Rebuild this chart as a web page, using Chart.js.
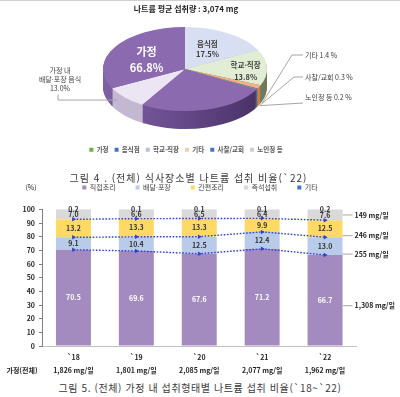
<!DOCTYPE html>
<html lang="ko"><head><meta charset="utf-8">
<script src="https://cdn.jsdelivr.net/npm/chart.js@4.4.1/dist/chart.umd.min.js"></script>
<style>
html,body{margin:0;padding:0;background:#fff;}
body{width:400px;height:397px;position:relative;overflow:hidden;font-family:"Noto Sans CJK KR","Noto Sans",sans-serif;}
#topline{position:absolute;left:0;top:0;width:400px;height:1px;background:#cfcfcf;}
#pieCanvas{position:absolute;left:0;top:0;}
#barCanvas{position:absolute;left:0;top:164px;}
.cap{position:absolute;left:0;width:400px;text-align:center;font-size:10px;line-height:12px;color:#3a3a3a;white-space:nowrap;box-sizing:border-box;}
#cap4{top:172px;letter-spacing:1px;padding-right:23px;}
#cap5{top:382px;letter-spacing:0.6px;}
</style></head><body>
<canvas id="pieCanvas" width="400" height="163"></canvas>
<canvas id="barCanvas" width="400" height="216"></canvas>
<div id="topline"></div>
<div class="cap" id="cap4">그림 4 . (전체) 식사장소별 나트륨 섭취 비율(`22)</div>
<div class="cap" id="cap5">그림 5. (전체) 가정 내 섭취형태별 나트륨 섭취 비율(`18~`22)</div>
<script>
const FONT='"Noto Sans CJK KR","Noto Sans",sans-serif';
Chart.defaults.font.family=FONT;
Chart.defaults.animation=false;

// ---------- data: figure 4 (pie) ----------
const avgSodium='3,074 mg';
const placeLabels=['가정','음식점','학교·직장','기타','사찰/교회','노인정 등'];
const placeShares=[66.8,17.5,13.8,1.4,0.3,0.2];
const homeDeliveryName=['가정 내','배달·포장 음식'];
const homeDeliveryShare=13.0;

// ---------- data: figure 5 (stacked bars) ----------
const years=['`18','`19','`20','`21','`22'];
const homeTotals=['1,826 mg/일','1,801 mg/일','2,085 mg/일','2,077 mg/일','1,962 mg/일'];
const typeNames=['직접조리','배달·포장','간편조리','즉석섭취','기타'];
const directCook=[70.5,69.6,67.6,71.2,66.7];
const deliveryTakeout=[9.1,10.4,12.5,12.4,13.0];
const convenienceCook=[13.2,13.3,13.3,9.9,12.5];
const instantEat=[7.0,6.6,6.5,6.4,7.6];
const otherType=[0.2,0.1,0.1,0.1,0.2];
const mg2022=['1,308 mg/일','255 mg/일','246 mg/일','149 mg/일'];

// ---------- pie ----------
const PIE={cx:185,cy:69,rx:82,ry:42,depth:18};
const WEDGE_AT=0.44;
const homeShare=placeShares[0];
const deliveryPart=homeShare*homeDeliveryShare/100;
const homeRest=homeShare-deliveryPart;
const pieValues=[placeShares[1],placeShares[2],placeShares[3],placeShares[4],placeShares[5],homeRest*WEDGE_AT,deliveryPart,homeRest*(1-WEDGE_AT)];
const pieNames=[placeLabels[1],placeLabels[2],placeLabels[3],placeLabels[4],placeLabels[5],placeLabels[0],homeDeliveryName.join(' '),placeLabels[0]];
const pieTop=['#D9DFF2','#E2EDD6','#F4B183','#5A7EC6','#A6A6A6','#8C6AAF','#ECE5F3','#8C6AAF'];
const pieSide=['#A9B0C9','#6E7C58','#C08050','#34538F','#767676',null,'#C4B8D2',null];
const pieLegendColors=['#70AD47','#4472C4','#B4C0E0','#F8CBAD','#4472C4','#D0D0D0'];

function ellPt(a,f){return {x:PIE.cx+PIE.rx*f*Math.cos(a),y:PIE.cy+PIE.ry*f*Math.sin(a)};}

const pie3d={
  id:'pie3d',
  beforeDatasetsDraw(chart){
    const meta=chart.getDatasetMeta(0),ctx=chart.ctx,e0=meta.data[0];
    const r=e0.outerRadius,sx=PIE.rx/r,sy=PIE.ry/r;
    const apply=(dy)=>{ctx.translate(PIE.cx,PIE.cy+dy);ctx.scale(sx,sy);ctx.translate(-e0.x,-e0.y);};
    const purple=ctx.createLinearGradient(e0.x-r,0,e0.x+r,0);
    purple.addColorStop(0,'#7E61A4');purple.addColorStop(0.5,'#654888');purple.addColorStop(1,'#452F63');
    for(let d=PIE.depth;d>=1;d--){
      ctx.save();apply(d);
      meta.data.forEach((el,i)=>{
        ctx.beginPath();ctx.moveTo(el.x,el.y);
        ctx.arc(el.x,el.y,el.outerRadius,el.startAngle,el.endAngle);
        ctx.closePath();ctx.fillStyle=pieSide[i]||purple;ctx.fill();
      });
      ctx.restore();
    }
    ctx.save();apply(0);
  },
  afterDatasetsDraw(chart){
    const ctx=chart.ctx;ctx.restore();
    const meta=chart.getDatasetMeta(0);
    const mid=i=>(meta.data[i].startAngle+meta.data[i].endAngle)/2;
    ctx.save();
    ctx.textAlign='center';ctx.textBaseline='middle';
    const two=(lines,x,y,gap,font,color)=>{ctx.font=font;ctx.fillStyle=color;ctx.fillText(lines[0],x,y-gap);ctx.fillText(lines[1],x,y+gap);};
    let p=ellPt(mid(0),0.57);
    two([placeLabels[1],placeShares[1].toFixed(1)+'%'],p.x-2,p.y+1,5,'bold 7.5px '+FONT,'#404040');
    p=ellPt(mid(1),0.74);
    two([placeLabels[2],placeShares[2].toFixed(1)+'%'],p.x,p.y+3,6,'bold 7.5px '+FONT,'#404040');
    p=ellPt(mid(7),0.55);
    two([placeLabels[0],placeShares[0].toFixed(1)+'%'],p.x,p.y+3,8,'bold 11px '+FONT,'#ffffff');
    // left outside label (sub-wedge)
    const w=ellPt(mid(6),1.0);
    ctx.strokeStyle='#A6A6A6';ctx.lineWidth=1;
    ctx.beginPath();ctx.moveTo(w.x-8,w.y+2.5);ctx.lineTo(PIE.cx-127,w.y+2.5);ctx.lineTo(PIE.cx-127,w.y-3);ctx.stroke();
    ctx.font='7px '+FONT;ctx.fillStyle='#404040';
    ctx.fillText(homeDeliveryName[0],PIE.cx-125,PIE.cy+1);
    ctx.fillText(homeDeliveryName[1],PIE.cx-125,PIE.cy+10);
    ctx.fillText(homeDeliveryShare.toFixed(1)+'%',PIE.cx-125,PIE.cy+19);
    // right outside labels
    const ys=[PIE.cy-14,PIE.cy+8,PIE.cy+28];
    const elbows=[[292,ys[0]],[294,ys[1]],[null,null]];
    ctx.textAlign='left';ctx.font='7px '+FONT;
    [2,3,4].forEach((si,k)=>{
      const a=ellPt(mid(si),1.0);
      const ax=a.x+3,ay=a.y+PIE.depth*0.9;
      ctx.beginPath();ctx.moveTo(ax,ay);
      if(k<2){ctx.lineTo(elbows[k][0],elbows[k][1]);ctx.lineTo(PIE.cx+118,elbows[k][1]);}
      else{ctx.lineTo(PIE.cx+118,ys[2]+6);}
      ctx.stroke();
      ctx.fillStyle='#404040';
      ctx.fillText(placeLabels[si+1]+' '+placeShares[si+1].toFixed(1)+' %',PIE.cx+120,ys[k]);
    });
    ctx.restore();
  }
};

new Chart(document.getElementById('pieCanvas'),{
  type:'pie',
  data:{labels:pieNames,datasets:[{data:pieValues,backgroundColor:pieTop,borderWidth:0,clip:false}]},
  options:{responsive:false,devicePixelRatio:1,animation:false,
    layout:{padding:{right:28}},
    plugins:{
      title:{display:true,text:'나트륨 평균 섭취량 : '+avgSodium,color:'#262626',font:{size:8,weight:'bold'},padding:{top:4,bottom:4}},
      legend:{position:'bottom',onClick:null,labels:{boxWidth:4,boxHeight:4,padding:6,color:'#595959',font:{size:6.5,weight:'bold'},
        generateLabels:()=>placeLabels.map((t,i)=>({text:t,fillStyle:pieLegendColors[i],strokeStyle:pieLegendColors[i],lineWidth:0,hidden:false,index:i,fontColor:'#595959'}))}},
      tooltip:{enabled:false}
    }},
  plugins:[pie3d]
});

// ---------- bars ----------
const barSeries=[directCook,deliveryTakeout,convenienceCook,instantEat,otherType];
const barColors=['#A38BBF','#B8CBE8','#FFD966','#D9D9D9','#4472C4'];
const cumulative=(...arrs)=>years.map((_,i)=>arrs.reduce((s,a)=>s+a[i],0));
const barDs=typeNames.map((n,k)=>({type:'bar',label:n,data:barSeries[k],backgroundColor:barColors[k],stack:'share',order:1,barPercentage:0.556,categoryPercentage:1,borderWidth:0}));
const lineSets=[cumulative(directCook),cumulative(directCook,deliveryTakeout),cumulative(directCook,deliveryTakeout,convenienceCook)];
const lineDs=lineSets.map((d,k)=>({type:'line',label:'trend'+k,data:d,stack:'line'+k,order:0,borderColor:'#3040D0',backgroundColor:'#3040D0',borderWidth:1.4,borderDash:[1.6,1.6],pointStyle:'triangle',rotation:90,pointRadius:2.6,pointBorderWidth:0,fill:false,tension:0}));

const barDecor={
  id:'barDecor',
  afterDatasetsDraw(chart){
    const ctx=chart.ctx;ctx.save();
    ctx.textAlign='center';ctx.textBaseline='middle';ctx.font='bold 7px '+FONT;
    barSeries.forEach((arr,k)=>{
      chart.getDatasetMeta(k).data.forEach((el,i)=>{
        ctx.fillStyle=k===0?'#ffffff':'#333333';
        ctx.fillText(arr[i].toFixed(1),el.x,(el.y+el.base)/2);
      });
    });
    const offs=[5.5,8,7,0];
    ctx.textAlign='left';ctx.strokeStyle='#A6A6A6';ctx.lineWidth=1;
    mg2022.forEach((t,k)=>{
      const el=chart.getDatasetMeta(k).data[years.length-1];
      const x0=el.x+el.width/2,y=(el.y+el.base)/2+offs[k];
      ctx.beginPath();ctx.moveTo(x0,y);ctx.lineTo(x0+10,y);ctx.stroke();
      ctx.fillStyle='#262626';ctx.fillText(t,x0+12,y);
    });
    ctx.restore();
  },
  afterDraw(chart){
    const ctx=chart.ctx,a=chart.chartArea;ctx.save();
    ctx.textAlign='center';ctx.textBaseline='middle';ctx.fillStyle='#262626';
    ctx.font='bold 7px '+FONT;
    ctx.fillText('가정(전체)',a.left-20,a.bottom+24);
    const lg=chart.legend;
    const ly=(lg.legendHitBoxes&&lg.legendHitBoxes.length)?lg.legendHitBoxes[0].top+lg.legendHitBoxes[0].height/2:lg.top+23.5;
    ctx.font='7px '+FONT;
    ctx.fillText('(%)',a.left-11,ly);
    ctx.restore();
  }
};

new Chart(document.getElementById('barCanvas'),{
  type:'bar',
  data:{labels:years.map((y,i)=>[y,homeTotals[i]]),datasets:[...barDs,...lineDs]},
  options:{responsive:false,devicePixelRatio:1,animation:false,
    layout:{padding:0},
    scales:{
      x:{stacked:true,grid:{display:false,drawTicks:false},border:{display:true,color:'#BFBFBF',width:1},
        ticks:{padding:4.5,color:'#262626',font:{size:7,weight:'bold',lineHeight:1.857}},afterFit:s=>{s.height=34;}},
      y:{stacked:true,min:0,max:100,ticks:{stepSize:10,color:'#262626',font:{size:7,weight:'bold'},padding:4},
        grid:{drawOnChartArea:false,drawTicks:true,tickLength:3,color:'#7F7F7F'},border:{color:'#7F7F7F'},afterFit:s=>{s.width=42;}},
      y2:{position:'right',display:true,grid:{display:false},border:{display:false},ticks:{display:false},afterFit:s=>{s.width=43.5;}}
    },
    plugins:{
      legend:{position:'top',weight:3000,onClick:null,labels:{boxWidth:4,boxHeight:4,padding:20,color:'#404040',font:{size:7},filter:it=>it.datasetIndex<5}},
      title:{display:true,text:' ',font:{size:1},padding:{top:0,bottom:7.3}},
      tooltip:{enabled:false}
    }},
  plugins:[barDecor]
});
</script>
</body></html>
